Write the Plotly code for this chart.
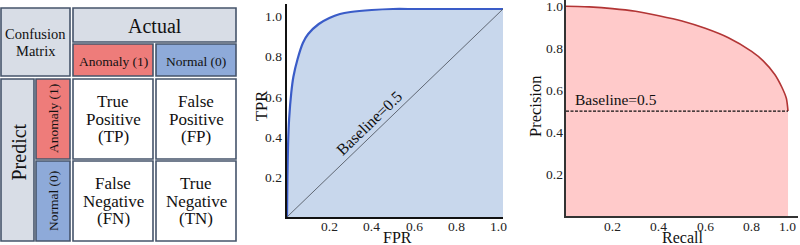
import plotly.graph_objects as go

# ---------------- data ----------------
classes = ["Anomaly (1)", "Normal (0)"]
cm_title = ["Confusion", "Matrix"]
actual_label = "Actual"
predict_label = "Predict"
cell_lines = [
    [["True", "Positive", "(TP)"], ["False", "Positive", "(FP)"]],
    [["False", "Negative", "(FN)"], ["True", "Negative", "(TN)"]],
]

roc_fpr = [0, 0.002, 0.005, 0.01, 0.02, 0.03, 0.05, 0.075, 0.1, 0.15, 0.2, 0.25, 0.3, 0.4, 0.5, 0.6, 0.8, 1.02]
roc_tpr = [0, 0.2, 0.36, 0.49, 0.62, 0.70, 0.79, 0.87, 0.915, 0.965, 0.995, 1.015, 1.025, 1.035, 1.04, 1.04, 1.04, 1.04]
base_fpr = [0, 1.02]
base_tpr = [0, 1.04]

pr_recall = [0, 0.05, 0.1, 0.2, 0.3, 0.4, 0.5, 0.6, 0.7, 0.8, 0.85, 0.9, 0.93, 0.95, 0.957]
pr_precision = [1.0, 0.999, 0.997, 0.989, 0.976, 0.955, 0.93, 0.895, 0.85, 0.785, 0.74, 0.675, 0.615, 0.56, 0.5]
pr_baseline = 0.5

ticks = [0.2, 0.4, 0.6, 0.8, 1.0]
tick_text = ["0.2", "0.4", "0.6", "0.8", "1.0"]

# ---------------- style ----------------
W, H = 800, 245
FONT = "Times New Roman, Liberation Serif, serif"
BORDER = "#45546b"
HEAD = "#d8dde6"
RED = "#ee7c7a"
BLUE = "#8eaad9"
TICK_SIZE = 13.5

fig = go.Figure()

# ROC
fig.add_trace(go.Scatter(x=roc_fpr, y=roc_tpr, mode="lines", line=dict(color="#3a5cc8", width=2.2, shape="spline", smoothing=0.6),
                         fill="tozeroy", fillcolor="#c8d7ec", xaxis="x", yaxis="y", showlegend=False, hoverinfo="skip"))
fig.add_trace(go.Scatter(x=base_fpr, y=base_tpr, mode="lines", line=dict(color="#555b66", width=0.9),
                         xaxis="x", yaxis="y", showlegend=False, hoverinfo="skip"))

# PR
fig.add_trace(go.Scatter(x=pr_recall, y=pr_precision, mode="lines", line=dict(color="#b23535", width=1.6, shape="spline", smoothing=0.6),
                         fill="tozeroy", fillcolor="#ffcaca", xaxis="x2", yaxis="y2", showlegend=False, hoverinfo="skip"))
fig.add_trace(go.Scatter(x=[0, pr_recall[-1]], y=[pr_baseline, pr_baseline], mode="lines",
                         line=dict(color="#111111", width=1.4, dash="3px,1.5px"),
                         xaxis="x2", yaxis="y2", showlegend=False, hoverinfo="skip"))

def px_x(p):
    return p / W

def px_y(p):
    return 1 - p / H

axis_common = dict(showgrid=False, zeroline=False, showline=True, linewidth=2, ticks="",
                   showticklabels=False, fixedrange=True)

fig.update_layout(
    width=W, height=H, autosize=False,
    margin=dict(l=0, r=0, t=0, b=0),
    paper_bgcolor="white", plot_bgcolor="rgba(0,0,0,0)",
    xaxis=dict(domain=[px_x(287), px_x(503)], range=[0, 1.02], linecolor="#111", anchor="y", **axis_common),
    yaxis=dict(domain=[px_y(217), px_y(4)], range=[0, 1.065], linecolor="#111", anchor="x", **axis_common),
    xaxis2=dict(domain=[px_x(566), px_x(798)], range=[0, 1.0], linecolor="#333", anchor="y2", **axis_common),
    yaxis2=dict(domain=[px_y(216), px_y(0)], range=[0, 1.03], linecolor="#333", anchor="x2", **axis_common),
    xaxis3=dict(domain=[0, 240 / W], range=[0, 240], visible=False, fixedrange=True, anchor="y3"),
    yaxis3=dict(domain=[0, 1], range=[H, 0], visible=False, fixedrange=True, anchor="x3"),
    showlegend=False,
)

annos = []
def txt(x, y, s, size, xref="paper", yref="paper", angle=0, xanchor="center", yanchor="middle", color="#111", pad=1):
    annos.append(dict(x=x, y=y, xref=xref, yref=yref, text=s, showarrow=False, textangle=angle, borderpad=pad,
                      xanchor=xanchor, yanchor=yanchor, font=dict(family=FONT, size=size, color=color)))

# tick labels placed through the axes' scales
for t, s in zip(ticks, tick_text):
    txt(t, px_y(226.5), s, TICK_SIZE, xref="x", color="#222")
    txt(t, px_y(226.5), s, TICK_SIZE, xref="x2", color="#222",
        xanchor="right" if t == ticks[-1] else "center")
    txt(px_x(284), t, s, TICK_SIZE, yref="y", xanchor="right", color="#222")
    txt(px_x(565), t, s, TICK_SIZE, yref="y2", xanchor="right", color="#222")

# axis titles
txt(px_x(397), px_y(237.5), "FPR", 16, pad=0)
txt(px_x(261), px_y(106), "TPR", 16.5, angle=-90)
txt(px_x(682), px_y(237.5), "Recall", 16, pad=0)
txt(px_x(535), px_y(107), "Precision", 16.5, angle=-90)

# baselines text
txt(0.385, 0.47, "Baseline=0.5", 16, xref="x", yref="y", angle=-44)
txt(0.03, pr_baseline + 0.005, "Baseline=0.5", 15.5, xref="x2", yref="y2", xanchor="left", yanchor="bottom")

# ---------------- confusion matrix ----------------
COLS = [(1, 34), (36, 70), (73, 153), (156, 236)]
ROWS = [(8, 42), (44, 76), (79, 159), (161, 241)]
shapes = []

def box(c0, c1, r0, r1, fill):
    x0, x1 = COLS[c0][0], COLS[c1][1]
    y0, y1 = ROWS[r0][0], ROWS[r1][1]
    shapes.append(dict(type="rect", xref="x3", yref="y3", x0=x0, x1=x1, y0=y0, y1=y1,
                       fillcolor=fill, line=dict(color=BORDER, width=1.6), layer="above"))
    return (x0 + x1) / 2, (y0 + y1) / 2

cx, cy = box(0, 1, 0, 1, HEAD)
txt(cx, cy - 8.5, cm_title[0], 14.5, "x3", "y3", pad=0)
txt(cx, cy + 8.5, cm_title[1], 14.5, "x3", "y3", pad=0)
cx, cy = box(2, 3, 0, 0, HEAD)
txt(cx, cy + 1, actual_label, 20, "x3", "y3")
cx, cy = box(0, 0, 2, 3, HEAD)
txt(cx + 1, cy - 8, predict_label, 20, "x3", "y3", angle=-90)
fills = [RED, BLUE]
for i, lab in enumerate(classes):
    cx, cy = box(2 + i, 2 + i, 1, 1, fills[i])
    txt(cx, cy + 1, lab, 13.5, "x3", "y3")
    cx, cy = box(1, 1, 2 + i, 2 + i, fills[i])
    txt(cx, cy, lab, 13.5, "x3", "y3", angle=-90)
for r in range(2):
    for c in range(2):
        cx, cy = box(2 + c, 2 + c, 2 + r, 2 + r, "white")
        for k, line in enumerate(cell_lines[r][c]):
            txt(cx, cy + (k - 1) * 17.5, line, 17, "x3", "y3", pad=0)

fig.update_layout(annotations=annos, shapes=shapes)
fig.write_html("out.html")
